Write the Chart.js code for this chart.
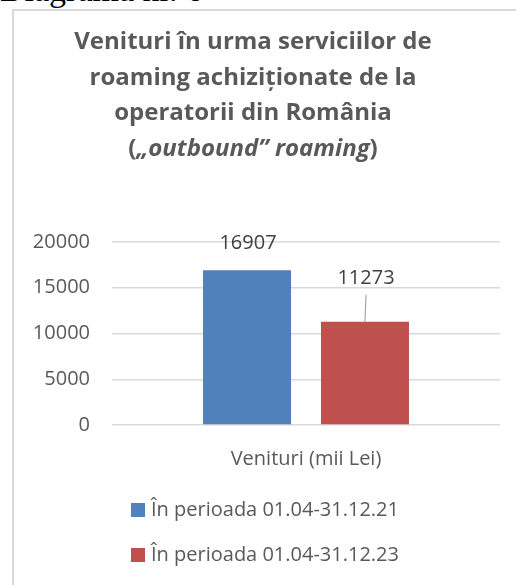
<!DOCTYPE html>
<html>
<head>
<meta charset="utf-8">
<script src="https://cdn.jsdelivr.net/npm/chart.js@4"></script>
<style>
  body { margin: 0; background: #fff; width: 516px; height: 585px; overflow: hidden; position: relative; }
  #caption { position: absolute; left: 0; top: -27px; font-family: "Liberation Serif", "DejaVu Serif", serif; font-size: 34px; line-height: 34px; color: #000; white-space: nowrap; }
  #frame { position: absolute; left: 12px; top: 9px; width: 560px; height: 640px; border: 2px solid #d9d9d9; box-sizing: border-box; }
  #wrap { position: absolute; left: 0; top: 0; width: 516px; height: 585px; }
</style>
</head>
<body>
<div id="caption">Diagrama nr. 6</div>
<div id="frame"></div>
<div id="wrap"><canvas id="chart"></canvas></div>
<script>
// chart data
const categories = ["Venituri (mii Lei)"];
const seriesNames = ["În perioada 01.04-31.12.21", "În perioada 01.04-31.12.23"];
const seriesValues = [[16907], [11273]];
const seriesColors = ["#4f81bd", "#c0504d"];
const yTicks = [0, 5000, 10000, 15000, 20000];

const titleLines = [
  [{ text: "Venituri în urma serviciilor de", italic: false }],
  [{ text: "roaming achiziționate de la", italic: false }],
  [{ text: "operatorii din România", italic: false }],
  [{ text: "(", italic: false }, { text: "„outbound” roaming", italic: true }, { text: ")", italic: false }]
];

const FONT = "'Open Sans', Lato, sans-serif";
const GREY = "#595959";

// title, value labels and legend drawn on the canvas
const decorPlugin = {
  id: "decor",
  afterDraw(chart) {
    const ctx = chart.ctx;
    ctx.save();

    // title
    ctx.fillStyle = GREY;
    ctx.textBaseline = "alphabetic";
    ctx.textAlign = "left";
    titleLines.forEach((parts, i) => {
      let total = 0;
      parts.forEach(p => {
        ctx.font = (p.italic ? "italic " : "") + "bold 24px " + FONT;
        total += ctx.measureText(p.text).width;
      });
      let x = 253 - total / 2;
      const y = 49 + i * 35.5;
      parts.forEach(p => {
        ctx.font = (p.italic ? "italic " : "") + "bold 24px " + FONT;
        ctx.fillText(p.text, x, y);
        x += ctx.measureText(p.text).width;
      });
    });

    // value labels
    const offsets = [27, 44];
    ctx.font = "20px " + FONT;
    ctx.textAlign = "center";
    ctx.textBaseline = "middle";
    chart.data.datasets.forEach((ds, i) => {
      chart.getDatasetMeta(i).data.forEach((bar, j) => {
        const ly = bar.y - offsets[i];
        ctx.fillStyle = "#404040";
        ctx.fillText(String(ds.data[j]), bar.x + 1, ly);
        if (i === 1) {
          ctx.strokeStyle = "#a6a6a6";
          ctx.lineWidth = 1.2;
          ctx.beginPath();
          ctx.moveTo(bar.x + 1, ly + 17);
          ctx.lineTo(bar.x, bar.y);
          ctx.stroke();
        }
      });
    });

    // legend
    ctx.textAlign = "left";
    ctx.font = "20px " + FONT;
    chart.data.datasets.forEach((ds, i) => {
      const cy = 510 + i * 45;
      ctx.fillStyle = ds.backgroundColor;
      ctx.fillRect(131, cy - 7, 14, 14);
      ctx.fillStyle = GREY;
      ctx.fillText(ds.label, 151, cy);
    });

    ctx.restore();
  }
};

new Chart(document.getElementById("chart"), {
  type: "bar",
  data: {
    labels: categories,
    datasets: seriesNames.map((name, i) => ({
      label: name,
      data: seriesValues[i],
      backgroundColor: seriesColors[i],
      categoryPercentage: 0.608,
      barPercentage: 0.746
    }))
  },
  options: {
    responsive: true,
    maintainAspectRatio: false,
    animation: false,
    layout: { padding: { top: 242, right: 16, bottom: 100, left: 0 } },
    plugins: {
      legend: { display: false },
      title: { display: false },
      tooltip: { enabled: false }
    },
    scales: {
      x: {
        grid: { display: false },
        border: { display: false },
        ticks: { color: GREY, font: { family: FONT, size: 20 }, padding: 14 }
      },
      y: {
        min: 0,
        max: 20000,
        afterBuildTicks(scale) { scale.ticks = yTicks.map(v => ({ value: v })); },
        afterFit(scale) { scale.width = 112; },
        grid: { color: "#d9d9d9", lineWidth: 1.5, drawTicks: false },
        border: { display: false },
        ticks: { color: GREY, font: { family: FONT, size: 20 }, padding: 22, callback: v => String(v) }
      }
    }
  },
  plugins: [decorPlugin]
});
</script>
</body>
</html>
